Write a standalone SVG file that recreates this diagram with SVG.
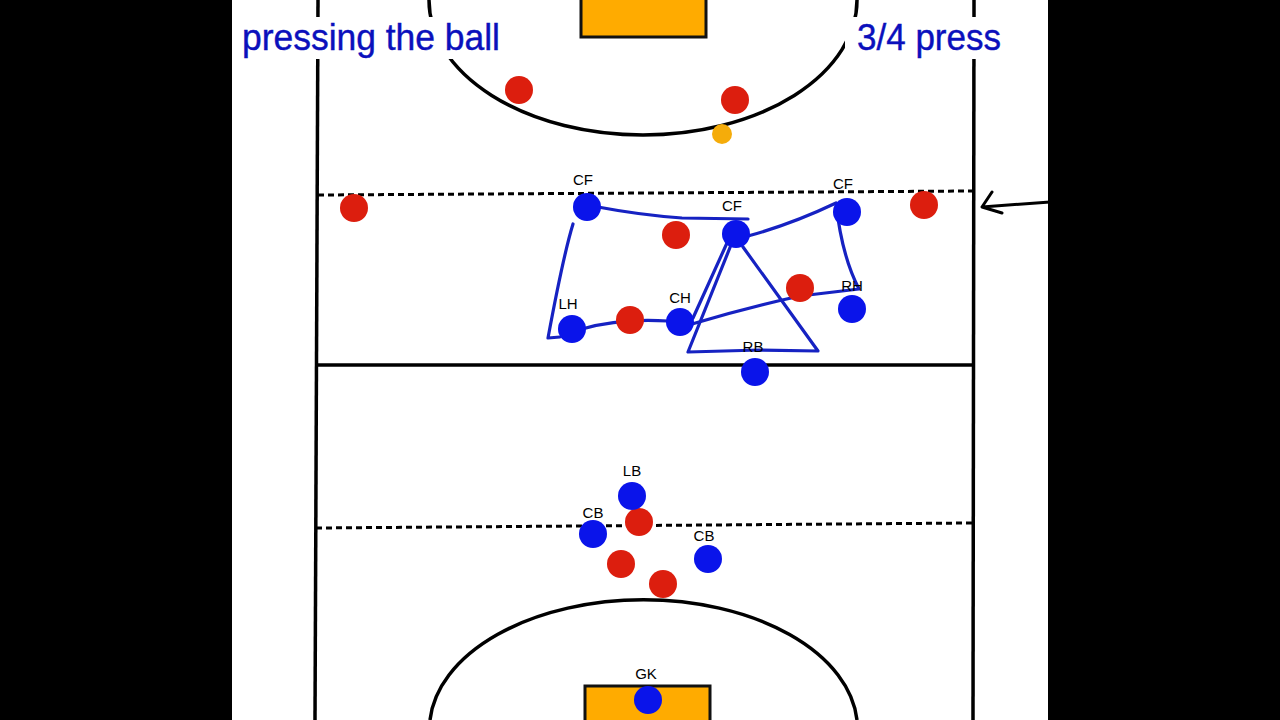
<svg xmlns="http://www.w3.org/2000/svg" width="1280" height="720" viewBox="0 0 1280 720">
<defs>
<style>
.field{fill:none;stroke:#000;stroke-width:3.5}
.dash{fill:none;stroke:#000;stroke-width:3;stroke-dasharray:6 4}
.goal{fill:#ffab00;stroke:#111;stroke-width:3}
.red{fill:#dc1e0e}
.blue{fill:#0a14ea}
.ball{fill:#f5ac0a}
.lbl{font-family:"Liberation Sans",Arial,sans-serif;font-size:15px;fill:#000;text-anchor:middle}
.title{font-family:"Liberation Sans",Arial,sans-serif;font-size:36px;fill:#0b10bc;stroke:#0b10bc;stroke-width:0.4}
.draw{fill:none;stroke:#1622c2;stroke-width:3.2;stroke-linecap:round;stroke-linejoin:round}
.arrow{fill:none;stroke:#000;stroke-width:3;stroke-linecap:round;stroke-linejoin:round}
</style>
</defs>
<rect width="1280" height="720" fill="#000"/>
<rect x="232" y="0" width="816" height="720" fill="#fff"/>
<g id="pitch">
<line class="field" x1="318" y1="0" x2="315" y2="720"/>
<line class="field" x1="974" y1="0" x2="973" y2="720"/>
<line class="field" x1="317" y1="365" x2="974" y2="365"/>
<line class="dash" x1="318" y1="195" x2="974" y2="191"/>
<line class="dash" x1="316" y1="528" x2="972" y2="523"/>
<path class="field" d="M429,0 A214,135 0 0 0 857,0"/>
<path class="field" d="M430,720 A214,129 0 0 1 857,720"/>
<rect class="goal" x="581" y="-3" width="125" height="40"/>
<rect class="goal" x="585" y="686" width="125" height="40"/>
</g>
<g id="titles">
<rect x="236" y="17" width="270" height="42" fill="#fff"/>
<rect x="845" y="17" width="165" height="42" fill="#fff"/>
<text class="title" x="242" y="50" textLength="258" lengthAdjust="spacingAndGlyphs">pressing the ball</text>
<text class="title" x="857" y="50" textLength="144" lengthAdjust="spacingAndGlyphs">3/4 press</text>
</g>
<g id="connectors">
<path class="draw" d="M573,224 C565,250 556,295 548,338 L560,337"/>
<path class="draw" d="M582,329 Q620,318 668,321"/>
<path class="draw" d="M598,207 Q640,215 682,218 L748,219"/>
<path class="draw" d="M748,236 Q792,224 836,203 C840,240 848,268 859,289 L800,296 Q745,308 692,324"/>
<path class="draw" d="M733,240 L688,352 L760,350 L818,351 L743,247"/>
<path class="draw" d="M727,243 L693,318"/>
<path class="arrow" d="M1050,202 L982,207 M992,192 L982,207 L1002,213"/>
</g>
<g id="attackers">
<circle class="red" cx="519" cy="90" r="14"/>
<circle class="red" cx="735" cy="100" r="14"/>
<circle class="red" cx="354" cy="208" r="14"/>
<circle class="red" cx="676" cy="235" r="14"/>
<circle class="red" cx="924" cy="205" r="14"/>
<circle class="red" cx="800" cy="288" r="14"/>
<circle class="red" cx="630" cy="320" r="14"/>
<circle class="red" cx="639" cy="522" r="14"/>
<circle class="red" cx="621" cy="564" r="14"/>
<circle class="red" cx="663" cy="584" r="14"/>
</g>
<g id="ball"><circle class="ball" cx="722" cy="134" r="10"/></g>
<g id="cf1"><circle class="blue" cx="587" cy="207" r="14"/><text class="lbl" x="583" y="185">CF</text></g>
<g id="cf2"><circle class="blue" cx="736" cy="234" r="14"/><text class="lbl" x="732" y="211">CF</text></g>
<g id="cf3"><circle class="blue" cx="847" cy="212" r="14"/><text class="lbl" x="843" y="189">CF</text></g>
<g id="lh"><circle class="blue" cx="572" cy="329" r="14"/><text class="lbl" x="568" y="309">LH</text></g>
<g id="ch"><circle class="blue" cx="680" cy="322" r="14"/><text class="lbl" x="680" y="303">CH</text></g>
<g id="rh"><circle class="blue" cx="852" cy="309" r="14"/><text class="lbl" x="852" y="291">RH</text></g>
<g id="rb"><circle class="blue" cx="755" cy="372" r="14"/><text class="lbl" x="753" y="352">RB</text></g>
<g id="lb"><circle class="blue" cx="632" cy="496" r="14"/><text class="lbl" x="632" y="476">LB</text></g>
<g id="cb1"><circle class="blue" cx="593" cy="534" r="14"/><text class="lbl" x="593" y="518">CB</text></g>
<g id="cb2"><circle class="blue" cx="708" cy="559" r="14"/><text class="lbl" x="704" y="541">CB</text></g>
<g id="gk"><circle class="blue" cx="648" cy="700" r="14"/><text class="lbl" x="646" y="679">GK</text></g>
</svg>
